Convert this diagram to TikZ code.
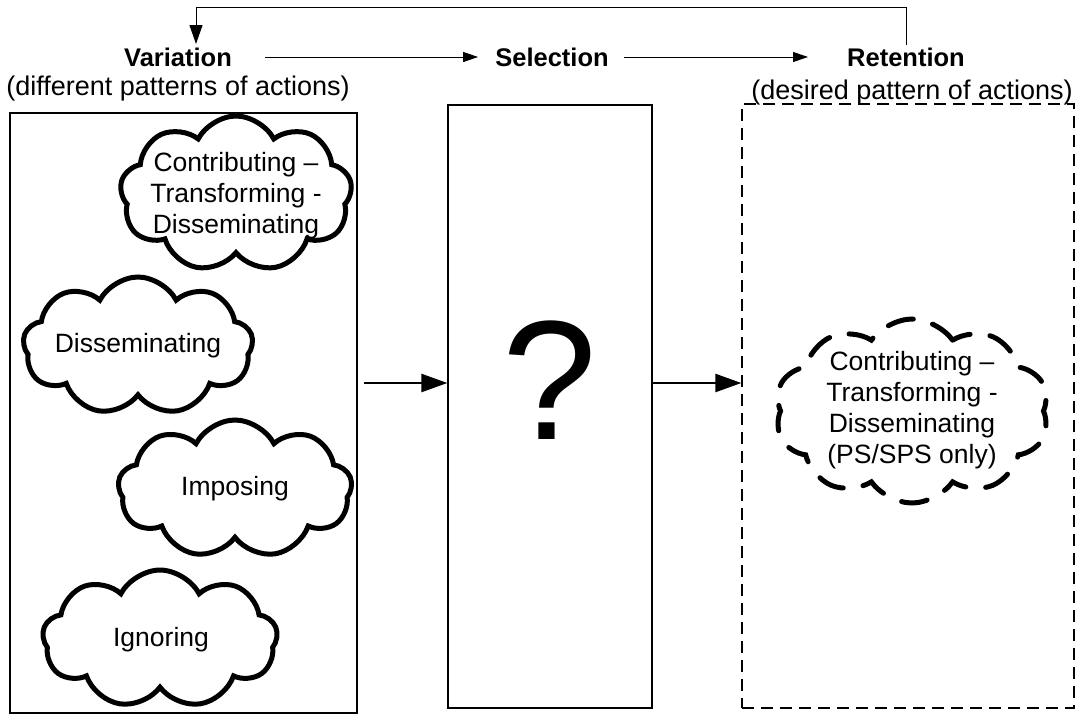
\documentclass[tikz,border=0pt]{standalone}
\usepackage{fontspec}
\setmainfont{Liberation Sans}
\usetikzlibrary{shapes.symbols,arrows.meta}
\begin{document}
\begin{tikzpicture}[x=1pt,y=-1pt,
  box/.style={draw, line width=1.3pt},
  dbox/.style={draw, line width=1.3pt, dash pattern=on 12pt off 7pt},
  cl/.style={cloud, draw, line width=5pt, cloud puffs=9, cloud puff arc=125, cloud ignores aspect, inner sep=0pt},
  dcl/.style={cl, cloud puffs=10, cloud puff arc=110, dash pattern=on 26pt off 20pt, line cap=round},
  ct/.style={align=center, font=\fontsize{26.5}{31}\selectfont, inner sep=0pt},
  lab/.style={font=\fontsize{25.5}{28}\selectfont\bfseries, inner sep=0pt, anchor=base},
  par/.style={font=\fontsize{27}{30}\selectfont, inner sep=0pt, anchor=base},
  thinarr/.style={line width=1pt, -{Triangle[length=15pt,width=10pt]}},
  fbarr/.style={line width=1pt, -{Triangle[length=19pt,width=13pt]}},
  thickarr/.style={line width=2.5pt, -{Triangle[length=26pt,width=18pt]}}]
\useasboundingbox (0,0) rectangle (1078,715);

% headings
\node[lab] (var) at (178,66) {Variation};
\node[lab] (sel) at (552,66) {Selection};
\node[lab] (ret) at (906,66) {Retention};
\node[par] (varp) at (178,95) {(different patterns of actions)};
\node[par] (retp) at (912,99) {(desired pattern of actions)};

% boxes
\draw[box] (10,113) rectangle (357,713);
\node[draw, line width=1.3pt, minimum width=204pt, minimum height=603pt, inner sep=0pt] (mid) at (550,406.5) {};
\node[dbox, minimum width=332pt, minimum height=604pt, inner sep=0pt] (rbox) at (908,406) {};
\coordinate (lbr) at (357,383);

\node[font=\fontsize{170}{180}\selectfont, inner sep=0pt] (q) at (550,380) {?};

% clouds left
\node[cl, minimum width=232pt, minimum height=156pt] (c1) at (236,194) {};
\node[ct] (t1) at (236,196) {Contributing --\\Transforming -\\Disseminating};
\node[cl, minimum width=230pt, minimum height=138pt] (c2) at (138,346) {};
\node[ct] (t2) at (138,346) {Disseminating};
\node[cl, minimum width=234pt, minimum height=138pt] (c3) at (235,489) {};
\node[ct] (t3) at (235,489) {Imposing};
\node[cl, minimum width=235pt, minimum height=138pt] (c4) at (160,639) {};
\node[ct] (t4) at (161,640) {Ignoring};

% dashed cloud
\node[dcl, minimum width=274pt, minimum height=184pt] (c5) at (912,411) {};
\node[ct] (t5) at (912,410) {Contributing --\\Transforming -\\Disseminating\\(PS/SPS only)};

% arrows
\coordinate (ay) at (0,57);
\draw[thinarr] ([xshift=33pt]var.east |- ay) -- ([xshift=-17pt]sel.west |- ay);
\draw[thinarr] ([xshift=15pt]sel.east |- ay) -- ([xshift=-39pt]ret.west |- ay);
\coordinate (fbr) at (906,45);
\coordinate (fbl) at (196,44);
\draw[fbarr] (fbr) -- (fbr |- 0,7) -- (fbl |- 0,7) -- (fbl);
\draw[thickarr] ([xshift=7pt]lbr) -- (mid.west |- lbr);
\draw[thickarr] (mid.east |- lbr) -- (rbox.west |- lbr);
\end{tikzpicture}
\end{document}
